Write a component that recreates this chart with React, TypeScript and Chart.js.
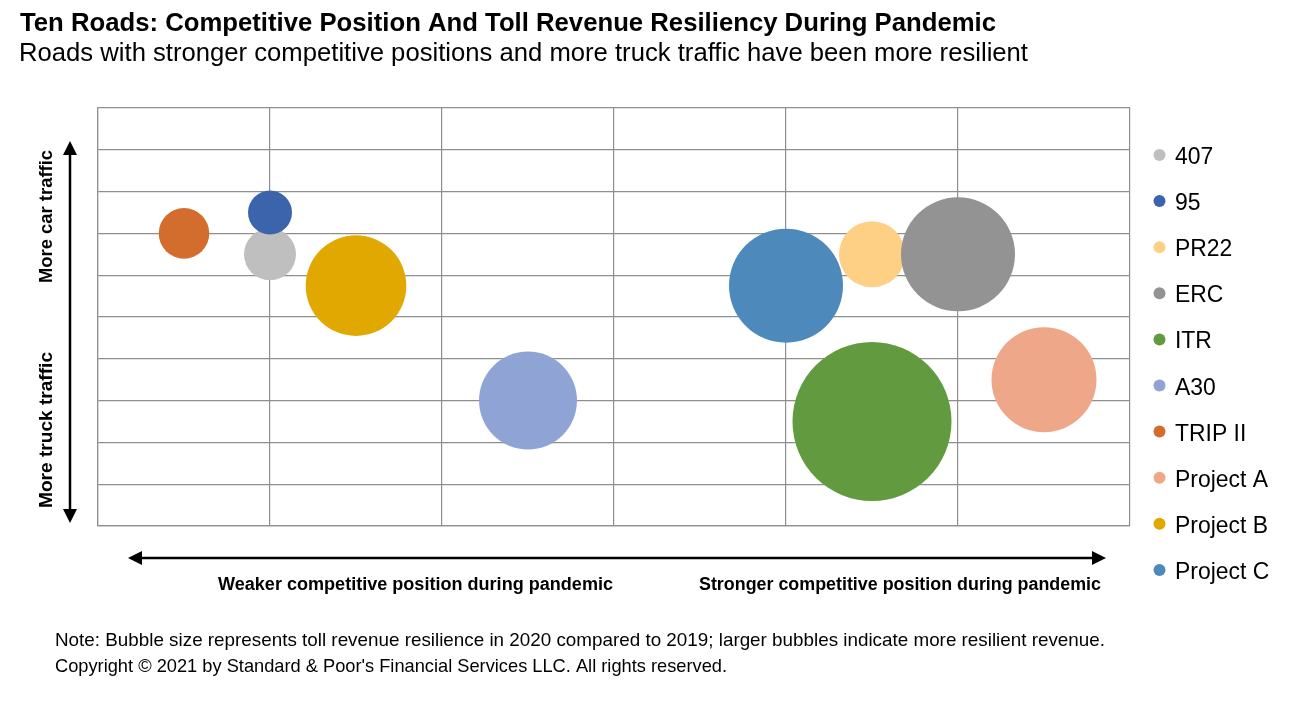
import React, { useEffect, useRef } from "react";
import { Chart, registerables } from "chart.js";

Chart.register(...registerables);

const titleText = "Ten Roads: Competitive Position And Toll Revenue Resiliency During Pandemic";
const subtitleText = "Roads with stronger competitive positions and more truck traffic have been more resilient";
const noteLines = [
  "Note: Bubble size represents toll revenue resilience in 2020 compared to 2019; larger bubbles indicate more resilient revenue.",
  "Copyright \u00A9 2021 by Standard & Poor's Financial Services LLC. All rights reserved.",
];
const xAxisLabels = ["Weaker competitive position during pandemic", "Stronger competitive position during pandemic"];
const yAxisLabels = ["More car traffic", "More truck traffic"];

const roads = ["407", "95", "PR22", "ERC", "ITR", "A30", "TRIP II", "Project A", "Project B", "Project C"];
const competitivePosition = [1, 1, 4.5, 5, 4.5, 2.5, 0.5, 5.5, 1.5, 4];
const trafficMix = [6.5, 7.5, 6.5, 6.5, 2.5, 3, 7, 3.5, 5.75, 5.75];
const revenueResilience = [26, 22, 33, 57, 79.5, 49, 25.3, 52.5, 50.3, 57];
const roadColors = [
  "#BFBFBF",
  "#3B64AD",
  "#FDD085",
  "#939393",
  "#629B3F",
  "#8FA4D4",
  "#D26D2E",
  "#EFA789",
  "#E0A800",
  "#4E89BC",
];

const FONT = "'Liberation Sans', Arial, sans-serif";

// draw text with a horizontal scale so it spans the given width
function drawFit(
  ctx: CanvasRenderingContext2D,
  text: string,
  x: number,
  y: number,
  font: string,
  width: number
) {
  ctx.save();
  ctx.font = font;
  ctx.textAlign = "left";
  ctx.textBaseline = "alphabetic";
  const w = ctx.measureText(text).width;
  const sx = width / w;
  ctx.translate(x, y);
  ctx.scale(sx, 1);
  ctx.fillText(text, 0, 0);
  ctx.restore();
}

const decorPlugin = {
  id: "decor",
  afterDraw(chart: any) {
    const ctx = chart.ctx as CanvasRenderingContext2D;
    ctx.save();
    ctx.fillStyle = "#000";

    // Title & subtitle
    drawFit(ctx, titleText, 20, 30.5, `bold 26px ${FONT}`, 976);
    drawFit(ctx, subtitleText, 19, 61, `26px ${FONT}`, 1009);

    // Vertical arrow
    const ax = 70;
    const yTop = 141;
    const yBot = 523;
    ctx.strokeStyle = "#000";
    ctx.lineWidth = 2.5;
    ctx.beginPath();
    ctx.moveTo(ax, yTop + 10);
    ctx.lineTo(ax, yBot - 10);
    ctx.stroke();
    ctx.beginPath();
    ctx.moveTo(ax, yTop);
    ctx.lineTo(ax - 7, yTop + 14);
    ctx.lineTo(ax + 7, yTop + 14);
    ctx.closePath();
    ctx.fill();
    ctx.beginPath();
    ctx.moveTo(ax, yBot);
    ctx.lineTo(ax - 7, yBot - 14);
    ctx.lineTo(ax + 7, yBot - 14);
    ctx.closePath();
    ctx.fill();

    // Horizontal arrow
    const hy = 558;
    const xL = 128;
    const xR = 1106;
    ctx.beginPath();
    ctx.moveTo(xL + 10, hy);
    ctx.lineTo(xR - 10, hy);
    ctx.stroke();
    ctx.beginPath();
    ctx.moveTo(xL, hy);
    ctx.lineTo(xL + 14, hy - 7);
    ctx.lineTo(xL + 14, hy + 7);
    ctx.closePath();
    ctx.fill();
    ctx.beginPath();
    ctx.moveTo(xR, hy);
    ctx.lineTo(xR - 14, hy - 7);
    ctx.lineTo(xR - 14, hy + 7);
    ctx.closePath();
    ctx.fill();

    // Axis labels
    const axisFont = `bold 18px ${FONT}`;
    drawFit(ctx, xAxisLabels[0], 218, 590, axisFont, 395);
    drawFit(ctx, xAxisLabels[1], 699, 590, axisFont, 402);

    ctx.save();
    ctx.translate(52, 283);
    ctx.rotate(-Math.PI / 2);
    drawFit(ctx, yAxisLabels[0], 0, 0, axisFont, 133);
    ctx.restore();
    ctx.save();
    ctx.translate(52, 508);
    ctx.rotate(-Math.PI / 2);
    drawFit(ctx, yAxisLabels[1], 0, 0, axisFont, 156);
    ctx.restore();

    // Legend
    const legendFont = `24px ${FONT}`;
    roads.forEach((name, i) => {
      const cy = 155 + i * 46.1;
      ctx.fillStyle = roadColors[i];
      ctx.beginPath();
      ctx.arc(1159.5, cy, 6, 0, Math.PI * 2);
      ctx.fill();
      ctx.fillStyle = "#000";
      ctx.font = legendFont;
      const w = ctx.measureText(name).width;
      drawFit(ctx, name, 1175, cy + 9, legendFont, w * 0.955);
    });

    // Notes
    const noteFont = `18.5px ${FONT}`;
    drawFit(ctx, noteLines[0], 55, 646, noteFont, 1050);
    drawFit(ctx, noteLines[1], 55, 672, noteFont, 672);

    ctx.restore();
  },
};

export default function App() {
  const canvasRef = useRef<HTMLCanvasElement | null>(null);

  useEffect(() => {
    if (!canvasRef.current) return;
    const n = roads.length;
    const chart = new Chart(canvasRef.current, {
      type: "bubble",
      data: {
        datasets: roads.map((name, i) => ({
          label: name,
          data: [{ x: competitivePosition[i], y: trafficMix[i], r: revenueResilience[i] }],
          backgroundColor: roadColors[i],
          borderWidth: 0,
          hoverBorderWidth: 0,
          hoverRadius: 0,
          order: n - i,
        })),
      },
      options: {
        responsive: false,
        animation: false,
        events: [],
        layout: { padding: { left: 98, top: 108, right: 174, bottom: 176 } },
        plugins: {
          legend: { display: false },
          tooltip: { enabled: false },
          title: { display: false },
        },
        scales: {
          x: {
            type: "linear",
            min: 0,
            max: 6,
            ticks: { display: false, stepSize: 1 },
            grid: { color: "#8f8f8f", lineWidth: 1.2, drawTicks: false },
            border: { display: true, color: "#8f8f8f", width: 1.2 },
          },
          y: {
            type: "linear",
            min: 0,
            max: 10,
            ticks: { display: false, stepSize: 1 },
            grid: { color: "#8f8f8f", lineWidth: 1.2, drawTicks: false },
            border: { display: true, color: "#8f8f8f", width: 1.2 },
          },
        },
      },
      plugins: [decorPlugin],
    });
    return () => chart.destroy();
  }, []);

  return (
    <div style={{ position: "absolute", left: 0, top: 0, width: 1304, height: 702, background: "#fff" }}>
      <canvas ref={canvasRef} width={1304} height={702} style={{ display: "block" }} />
    </div>
  );
}
